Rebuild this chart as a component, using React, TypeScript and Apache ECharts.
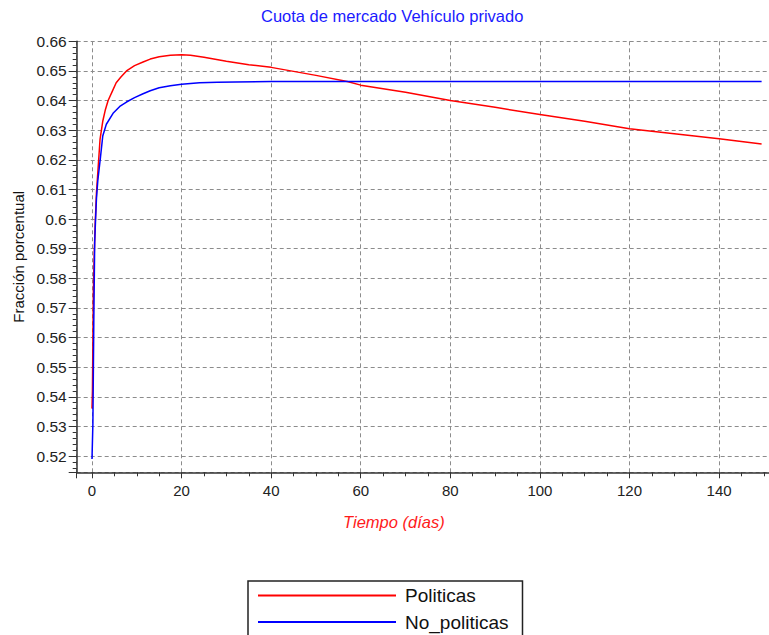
import React, { useEffect, useRef } from "react";
import * as echarts from "echarts";

const titleText = "Cuota de mercado Vehículo privado";
const xName = "Tiempo (días)";
const yName = "Fracción porcentual";
const seriesNames = ["Politicas", "No_politicas"];

const politicasX = [0, 0.1, 0.3, 0.5, 0.7, 1, 1.4, 1.8, 2.4, 3, 3.6, 4.5, 5.4, 6.5, 7.7, 9.5, 11.4, 13, 15, 17.5, 20, 22, 25, 30, 35, 40, 50, 57, 60, 70, 80, 90, 100, 110, 120, 130, 140, 149.5];
const politicasY = [0.536, 0.542, 0.575, 0.588, 0.598, 0.609, 0.618, 0.627, 0.633, 0.637, 0.64, 0.643, 0.646, 0.648, 0.65, 0.6518, 0.653, 0.654, 0.6548, 0.6553, 0.6555, 0.6553, 0.6546, 0.6533, 0.6521, 0.6512, 0.6485, 0.6464, 0.6452, 0.6428, 0.64, 0.6377, 0.6353, 0.633, 0.6305, 0.6288, 0.6271, 0.6253];

const noPoliticasX = [0, 0.2, 0.4, 0.6, 0.8, 1, 1.3, 1.9, 2.4, 3.2, 4.7, 6.2, 7.7, 9.5, 11.4, 13, 15, 17.5, 20, 24, 28, 32, 40, 60, 100, 149.5];
const noPoliticasY = [0.519, 0.531, 0.565, 0.592, 0.6, 0.607, 0.613, 0.621, 0.628, 0.632, 0.6357, 0.638, 0.6395, 0.641, 0.6423, 0.6433, 0.6443, 0.645, 0.6455, 0.646, 0.6462, 0.6463, 0.6464, 0.6464, 0.6464, 0.6464];

const FONT = "'Liberation Sans', Arial, sans-serif";

export default function App() {
  const ref = useRef<HTMLDivElement>(null);
  useEffect(() => {
    if (!ref.current) return;
    const chart = echarts.init(ref.current, undefined, { renderer: "svg" });
    const axisLineStyle = { color: "#333", width: 1.5 };
    const split = { show: true, lineStyle: { color: "#8c8c8c", type: [4, 3] as any, width: 1 } };
    chart.setOption({
      animation: false,
      backgroundColor: "#fff",
      title: {
        text: titleText,
        left: 256,
        top: 2,
        padding: 5,
        textStyle: { color: "#1a1aff", fontSize: 16.5, fontWeight: "normal", fontFamily: FONT },
      },
      legend: {
        orient: "horizontal",
        left: 248,
        top: 581,
        width: 257,
        padding: [5, 14, 10, 10],
        itemGap: 7.6,
        itemWidth: 138,
        itemHeight: 2,
        icon: "rect",
        borderColor: "#222",
        borderWidth: 1.5,
        data: seriesNames,
        textStyle: { fontSize: 19, color: "#111", fontFamily: FONT, padding: [0, 0, 0, 4] },
      },
      grid: { left: 76.7, right: 0, top: 41.3, bottom: 162.7 },
      xAxis: {
        type: "value",
        min: -3.416,
        max: 151.15,
        splitNumber: 8,
        name: xName,
        nameLocation: "middle",
        nameGap: 41,
        nameTextStyle: { color: "#ff1a1a", fontStyle: "italic", fontSize: 16.5, fontFamily: FONT, padding: [0, 58, 0, 0] },
        axisLine: { show: true, onZero: false, lineStyle: axisLineStyle },
        axisTick: { show: true, length: 6, lineStyle: { color: "#333" } },
        minorTick: { show: true, splitNumber: 4, length: 4, lineStyle: { color: "#333" } },
        axisLabel: { fontSize: 15, color: "#222", margin: 11, fontFamily: FONT, showMinLabel: false, showMaxLabel: false },
        splitLine: split,
      },
      yAxis: {
        type: "value",
        min: 0.5145,
        max: 0.66,
        splitNumber: 15,
        name: yName,
        nameLocation: "middle",
        nameGap: 49,
        nameTextStyle: { color: "#111", fontSize: 15, fontFamily: FONT },
        axisLine: { show: true, onZero: false, lineStyle: axisLineStyle },
        axisTick: { show: true, length: 8, lineStyle: { color: "#333" } },
        minorTick: { show: true, splitNumber: 5, length: 4, lineStyle: { color: "#333" } },
        axisLabel: {
          fontSize: 15.5,
          color: "#222",
          margin: 10,
          fontFamily: FONT,
          showMinLabel: false,
          formatter: (v: number) => String(parseFloat(v.toFixed(2))),
        },
        splitLine: split,
      },
      series: [
        {
          name: seriesNames[0],
          type: "line",
          showSymbol: false,
          symbol: "none",
          color: "#ff0000",
          lineStyle: { color: "#ff0000", width: 1.5 },
          data: politicasX.map((x, i) => [x, politicasY[i]]),
        },
        {
          name: seriesNames[1],
          type: "line",
          showSymbol: false,
          symbol: "none",
          color: "#0000ff",
          lineStyle: { color: "#0000ff", width: 1.5 },
          data: noPoliticasX.map((x, i) => [x, noPoliticasY[i]]),
        },
      ],
    });
    return () => chart.dispose();
  }, []);
  return (
    <div
      ref={ref}
      style={{ position: "absolute", left: 0, top: 0, width: 769, height: 635 }}
    />
  );
}
